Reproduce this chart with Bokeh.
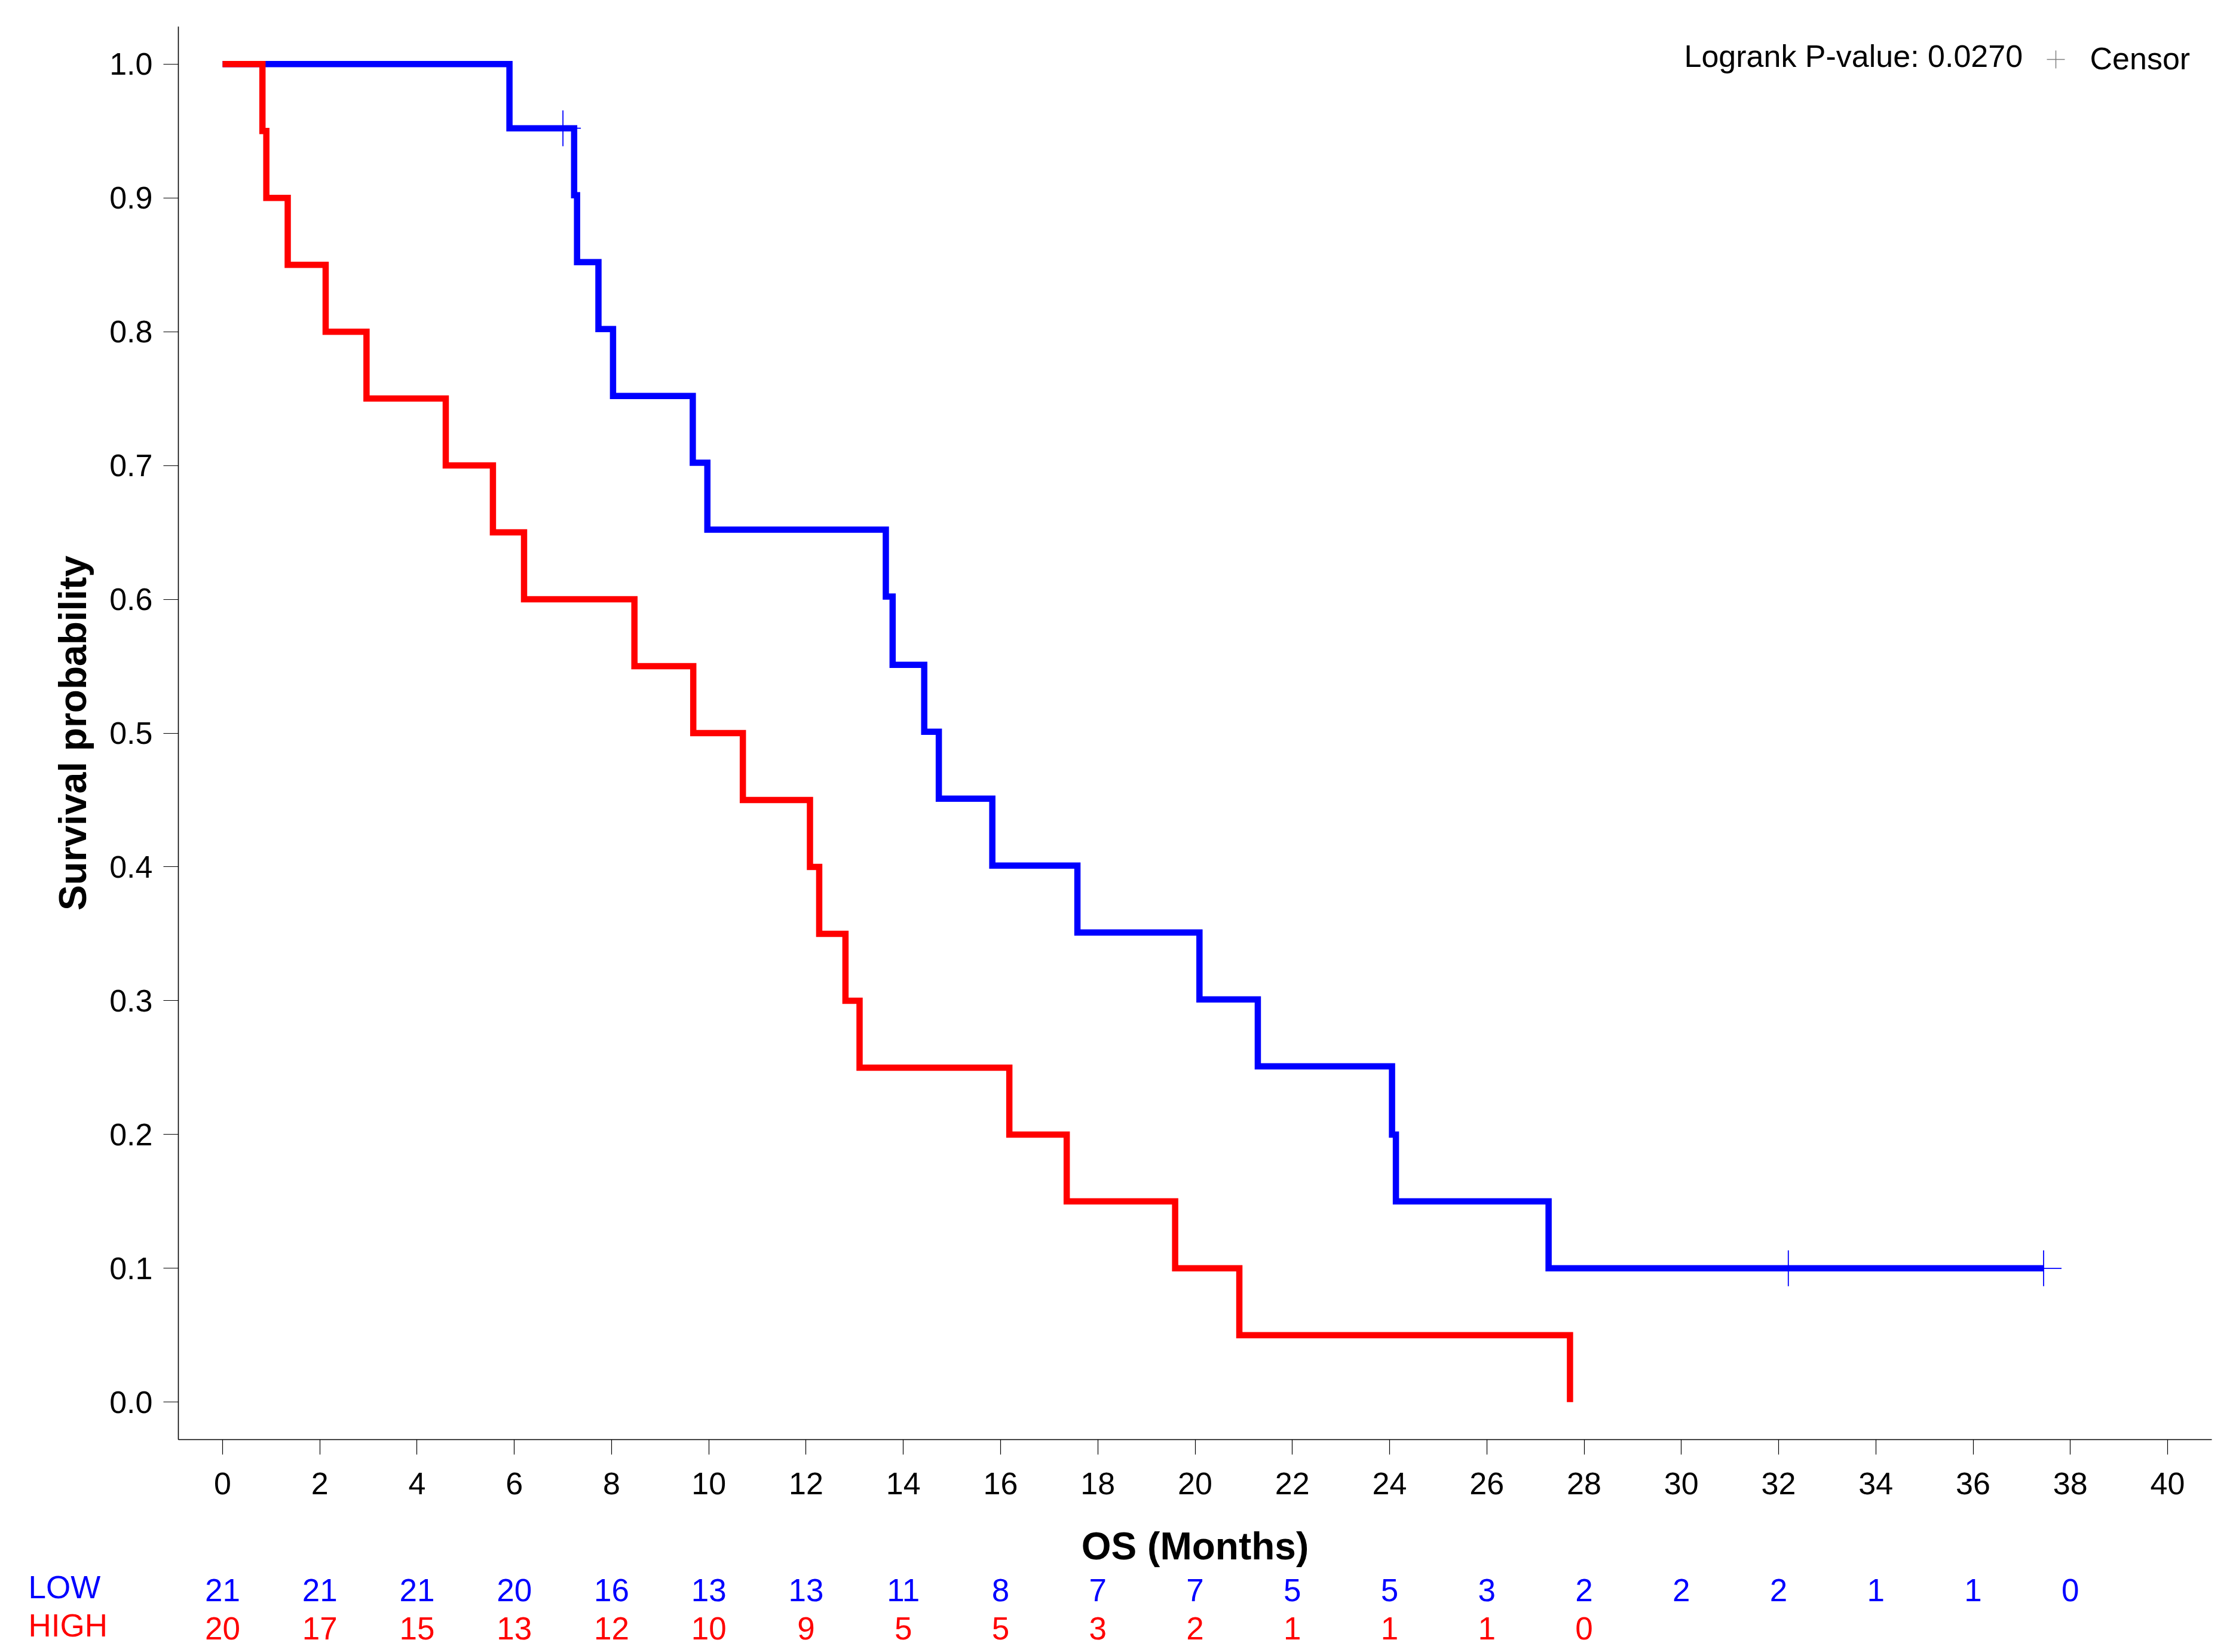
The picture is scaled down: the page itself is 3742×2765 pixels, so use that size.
from bokeh.plotting import figure
from bokeh.models import Range1d, FixedTicker, Label, NumeralTickFormatter
from bokeh.core.properties import value
from bokeh.embed import file_html
from bokeh.resources import INLINE

# ---- data ----
low_times = [0.0, 5.90, 7.23, 7.29, 7.73, 8.03, 9.67, 9.97, 13.64, 13.78, 14.43,
             14.73, 15.83, 17.58, 20.09, 21.29, 24.05, 24.13, 27.27, 37.45]
low_surv = [1.0, 0.952, 0.902, 0.852, 0.802, 0.752, 0.702, 0.652, 0.602, 0.551,
            0.501, 0.451, 0.401, 0.351, 0.301, 0.251, 0.200, 0.150, 0.100, 0.100]

high_times = [0.0, 0.82, 0.90, 1.34, 2.12, 2.96, 4.59, 5.56, 6.20, 8.47, 9.68,
              10.70, 12.08, 12.27, 12.81, 13.10, 16.18, 17.36, 19.59, 20.91, 27.71]
high_surv = [1.0, 0.95, 0.90, 0.85, 0.80, 0.75, 0.70, 0.65, 0.60, 0.55, 0.50,
             0.45, 0.40, 0.35, 0.30, 0.25, 0.20, 0.15, 0.10, 0.05, 0.0]

censor_times = [7.00, 32.20, 37.45]
censor_surv = [0.952, 0.100, 0.100]

risk_times_low = [0, 2, 4, 6, 8, 10, 12, 14, 16, 18, 20, 22, 24, 26, 28, 30, 32, 34, 36, 38]
risk_low = [21, 21, 21, 20, 16, 13, 13, 11, 8, 7, 7, 5, 5, 3, 2, 2, 2, 1, 1, 0]
risk_times_high = [0, 2, 4, 6, 8, 10, 12, 14, 16, 18, 20, 22, 24, 26, 28]
risk_high = [20, 17, 15, 13, 12, 10, 9, 5, 5, 3, 2, 1, 1, 1, 0]

x_ticks = list(range(0, 42, 2))
y_ticks = [0.0, 0.1, 0.2, 0.3, 0.4, 0.5, 0.6, 0.7, 0.8, 0.9, 1.0]

pvalue_text = "Logrank P-value: 0.0270"
censor_text = "Censor"
group_names = ["LOW", "HIGH"]

BLUE = "#0000FF"
RED = "#FF0000"
FONT = "Liberation Sans"

# ---- layout (pixels) ----
W, H = 3726, 2749
AX_X0, AX_X1 = -0.909, 40.909      # extent of the x axis line
AX_Y0, AX_Y1 = -0.028, 1.028       # extent of the y axis line
PX_X0, PX_X1 = 298, 3701           # pixel positions of the axis extents
PX_Y1, PX_Y0 = 44, 2409

kx = (PX_X1 - PX_X0) / (AX_X1 - AX_X0)
ky = (PX_Y0 - PX_Y1) / (AX_Y1 - AX_Y0)
x_start = AX_X0 - PX_X0 / kx
x_end = AX_X1 + (W - PX_X1) / kx
y_end = AX_Y1 + PX_Y1 / ky
y_start = AX_Y0 - (H - PX_Y0) / ky

def ypx(py):
    return AX_Y1 - (py - PX_Y1) / ky

def xpx(px):
    return AX_X0 + (px - PX_X0) / kx

p = figure(width=W, height=H, output_backend="svg", toolbar_location=None,
           x_range=Range1d(x_start, x_end), y_range=Range1d(y_start, y_end),
           min_border_left=0, min_border_right=0, min_border_top=0,
           min_border_bottom=0)
p.outline_line_color = None
p.grid.visible = False
p.background_fill_color = "white"
p.border_fill_color = "white"

xa = p.xaxis[0]
ya = p.yaxis[0]
xa.fixed_location = AX_Y0
xa.bounds = (AX_X0, AX_X1)
ya.fixed_location = AX_X0
ya.bounds = (AX_Y0, AX_Y1)

for ax in (xa, ya):
    ax.axis_line_width = 1.6
    ax.axis_line_color = "black"
    ax.major_tick_line_width = 1.2
    ax.major_tick_line_color = "black"
    ax.major_tick_in = 0
    ax.major_tick_out = 25
    ax.minor_tick_line_color = None
    ax.major_label_text_font = FONT
    ax.major_label_text_font_size = "52px"
    ax.major_label_text_color = "black"
    ax.axis_label_text_font = FONT
    ax.axis_label_text_font_size = "64px"
    ax.axis_label_text_font_style = "bold"
    ax.axis_label_text_color = "black"

xa.ticker = FixedTicker(ticks=x_ticks)
ya.ticker = FixedTicker(ticks=y_ticks)
ya.formatter = NumeralTickFormatter(format="0.0")
xa.major_label_standoff = 30
ya.major_label_standoff = 18
xa.axis_label = "OS (Months)"
ya.axis_label = "Survival probability"
xa.axis_label_standoff = 48
ya.axis_label_standoff = 22

# curves
p.step(low_times, low_surv, mode="after", line_color=BLUE, line_width=10.5,
       line_join="miter", line_cap="butt")
p.step(high_times, high_surv, mode="after", line_color=RED, line_width=10.5,
       line_join="miter", line_cap="butt")

# censor marks
p.scatter(censor_times, censor_surv, marker="cross", size=60, line_color=BLUE,
          line_width=1.8)

# legend-like texts (vertical centres)
p.text(x=[xpx(2818)], y=[ypx(93)], text=[pvalue_text], text_font=value(FONT),
       text_font_size="52px", text_color="black", text_align="left",
       text_baseline="middle")
p.scatter([xpx(3440)], [ypx(99)], marker="cross", size=30, line_color="#808080",
          line_width=1.5)
p.text(x=[xpx(3497)], y=[ypx(97)], text=[censor_text], text_font=value(FONT),
       text_font_size="52px", text_color="black", text_align="left",
       text_baseline="middle")

# number-at-risk table
ROW_LOW = ypx(2661)
ROW_HIGH = ypx(2725)
NAME_X = xpx(47)
p.text(x=[NAME_X], y=[ypx(2656)], text=[group_names[0]], text_font=value(FONT),
       text_font_size="53px", text_color=BLUE, text_align="left",
       text_baseline="middle")
p.text(x=[NAME_X], y=[ypx(2720)], text=[group_names[1]], text_font=value(FONT),
       text_font_size="53px", text_color=RED, text_align="left",
       text_baseline="middle")
p.text(x=risk_times_low, y=[ROW_LOW] * len(risk_low), text=[str(n) for n in risk_low],
       text_font=value(FONT), text_font_size="53px", text_color=BLUE,
       text_align="center", text_baseline="middle")
p.text(x=risk_times_high, y=[ROW_HIGH] * len(risk_high), text=[str(n) for n in risk_high],
       text_font=value(FONT), text_font_size="53px", text_color=RED,
       text_align="center", text_baseline="middle")

open("out.html", "w").write(file_html(p, INLINE))
